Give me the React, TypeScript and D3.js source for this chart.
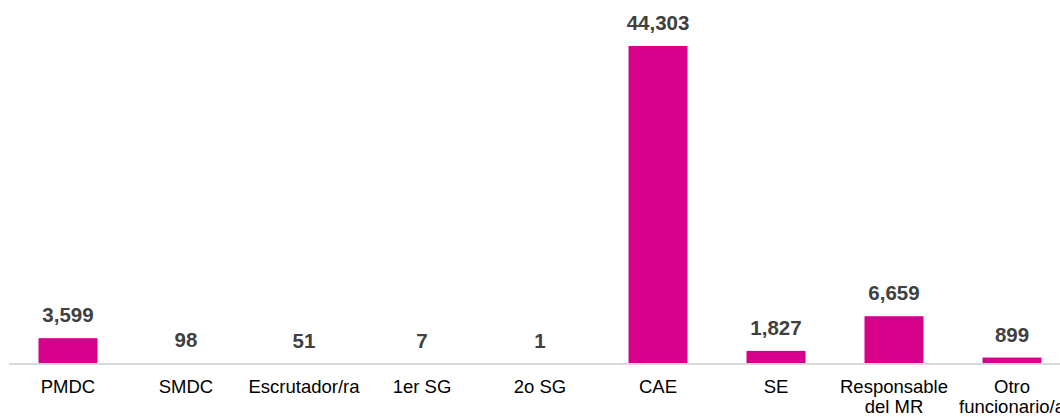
import React from "react";
import * as d3 from "d3";

const categories = ["PMDC", "SMDC", "Escrutador/ra", "1er SG", "2o SG", "CAE", "SE", "Responsable del MR", "Otro funcionario/a"];
const tickLines = [["PMDC"], ["SMDC"], ["Escrutador/ra"], ["1er SG"], ["2o SG"], ["CAE"], ["SE"], ["Responsable", "del MR"], ["Otro", "funcionario/a"]];
const values = [3599, 98, 51, 7, 1, 44303, 1827, 6659, 899];

const W = 1060;
const H = 417;
const baseY = 364;

export default function App() {
  const x = d3.scaleBand<string>().domain(categories).range([9, 1071]).paddingInner(0.5).paddingOuter(0.25);
  const y = d3.scaleLinear().domain([0, 44303]).range([baseY, 46]);
  const fmt = d3.format(",");
  return (
    <svg width={W} height={H} style={{ position: "absolute", left: 0, top: 0 }} fontFamily="Liberation Sans, Arial, sans-serif">
      <rect width={W} height={H} fill="#ffffff" />
      {values.map((v, i) => {
        const c = categories[i];
        const x0 = x(c)!;
        const yt = y(v);
        return (
          <g key={c}>
            <rect x={x0} y={yt} width={x.bandwidth()} height={baseY - yt} fill="#D6008A" />
            <text x={x0 + x.bandwidth() / 2} y={yt - 16} textAnchor="middle" fontSize={20.5} fontWeight="bold" fill="#404040">
              {fmt(v)}
            </text>
          </g>
        );
      })}
      <line x1={9} x2={W} y1={baseY} y2={baseY} stroke="#D9D9D9" strokeWidth={2} />
      {categories.map((c, i) => (
        <text key={c} x={x(c)! + x.bandwidth() / 2} y={393} textAnchor="middle" fontSize={18.5} fill="#000000">
          {tickLines[i].map((l, j) => (
            <tspan key={j} x={x(c)! + x.bandwidth() / 2} dy={j === 0 ? 0 : 20}>{l}</tspan>
          ))}
        </text>
      ))}
    </svg>
  );
}
